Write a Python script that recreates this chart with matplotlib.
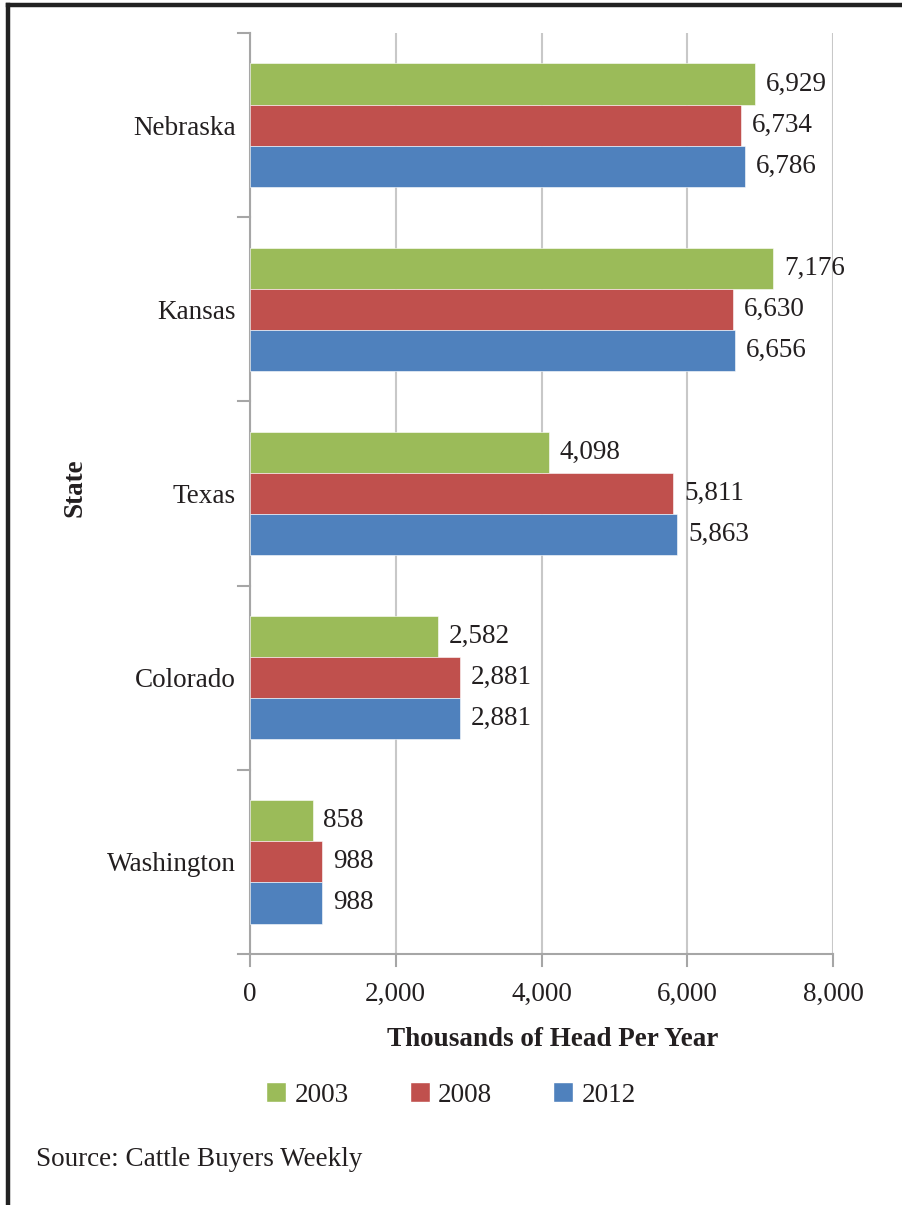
import matplotlib
matplotlib.use("Agg")
import matplotlib.pyplot as plt
from matplotlib.lines import Line2D
from matplotlib.patches import Patch
import numpy as np

states = ["Nebraska", "Kansas", "Texas", "Colorado", "Washington"]
years = ["2003", "2008", "2012"]
v2003 = [6929, 7176, 4098, 2582, 858]
v2008 = [6734, 6630, 5811, 2881, 988]
v2012 = [6786, 6656, 5863, 2881, 988]
xticks = [0, 2000, 4000, 6000, 8000]
colors = ["#9BBB59", "#C0504D", "#4F81BD"]

plt.rcParams['font.family'] = ['Liberation Serif', 'DejaVu Serif']
TXT = "#231F20"
FS = 19.5
W, H = 902, 1205
fig = plt.figure(figsize=(W/100, H/100), dpi=100)

ax = fig.add_axes([250/W, 1-954/H, 583/W, (954-33)/H])
n = len(states)
bh = 0.223
series = [v2003, v2008, v2012]
for i, (vals, c) in enumerate(zip(series, colors)):
    ys = [n - 1 - k + (1 - i) * bh for k in range(n)]
    ax.barh(ys, vals, height=bh, color=c, edgecolor="white", linewidth=0.4, zorder=3)
    for y, v in zip(ys, vals):
        ax.text(v + 150, y, f"{v:,}", va="center", ha="left", fontsize=FS, color=TXT, zorder=4)

ax.set_xlim(0, 8000)
ax.set_ylim(-0.5, n - 0.5)
ax.set_xticks(xticks)
ax.set_xticklabels([f"{t:,}" for t in xticks], fontsize=FS, color=TXT)
ax.set_yticks([n - 1 - k for k in range(n)])
ax.set_yticklabels(states, fontsize=FS, color=TXT)
ax.tick_params(axis='y', length=0, pad=10)
ax.tick_params(axis='x', length=0, pad=20)
# boundary tick marks on y axis
for b in np.arange(-0.5, n, 1.0):
    ax.plot([-0.0206*8000, 0], [b, b], color="#A6A6A6", lw=1.5, clip_on=False, zorder=2)
for t in xticks:
    ax.plot([t, t], [-0.5, -0.5 - 0.065], color="#A6A6A6", lw=1.5, clip_on=False, zorder=2)
ax.grid(axis='x', color="#C8C8C8", lw=1.5, zorder=0)
for s in ["top", "right"]:
    ax.spines[s].set_visible(False)
for s in ["left", "bottom"]:
    ax.spines[s].set_color("#A6A6A6")
    ax.spines[s].set_linewidth(1.5)

fig.text(553/W, 1-1040/H, "Thousands of Head Per Year", ha="center", va="center",
         fontsize=FS, fontweight="bold", color=TXT)
fig.text(75/W, 1-488/H, "State", ha="center", va="center", rotation=90,
         fontsize=FS, fontweight="bold", color=TXT)

handles = [Patch(facecolor=c, edgecolor="white", label=y) for c, y in zip(colors, years)]
fig.legend(handles=handles, loc="center", bbox_to_anchor=(451/W, 1-1095/H), ncol=3,
           frameon=False, fontsize=FS, handlelength=0.75, handleheight=0.75,
           handletextpad=0.3, columnspacing=2.25, labelcolor=TXT)

fig.text(36/W, 1-1160/H, "Source: Cattle Buyers Weekly", ha="left", va="center",
         fontsize=FS, color=TXT)

# frame
fig.add_artist(Line2D([8/W, 1], [1-5/H, 1-5/H], color="#222222", lw=3.2))
fig.add_artist(Line2D([8/W, 8/W], [0, 1-5/H], color="#222222", lw=3.2))

fig.savefig("out.png", dpi=100)
